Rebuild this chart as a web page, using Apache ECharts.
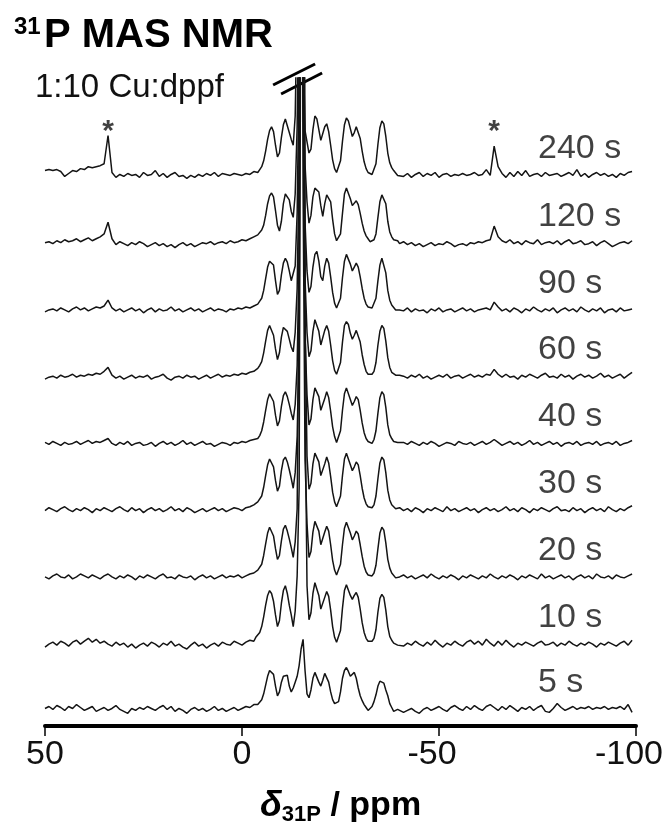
<!DOCTYPE html>
<html>
<head>
<meta charset="utf-8">
<script src="https://cdn.jsdelivr.net/npm/echarts@6/dist/echarts.min.js"></script>
<style>
html,body{margin:0;padding:0;background:#fff;}
#main{width:667px;height:831px;}
</style>
</head>
<body>
<div id="main"></div>
<script>
var FONT = '"Liberation Sans", Arial, sans-serif';

// stacked spectra, top to bottom
var labels = ['240 s', '120 s', '90 s', '60 s', '40 s', '30 s', '20 s', '10 s', '5 s'];
var offsets = [566, 496, 427, 359, 290, 222, 153, 84, 17];

// intensities: 50..-3 ppm (1 ppm), -3.5..-40 (0.5 ppm), -41..-99 (1 ppm)
var s240 = [
  4, 5, 4, 5, 3, -2, 1, 4, 3, 6,
  5, 8, 7, 8, 9, 11, 40, 2, -3, 0,
  -2, 1, -1, 0, -3, 2, -1, 0, 4, -2,
  1, -3, 0, 2, -2, -1, -4, -1, -3, 0,
  -2, 1, -1, 2, -2, 1, 0, -1, 1, 0,
  -1, 1, 0, 3,
  3, 2, 5, 8, 14, 24, 36, 45, 49, 44,
  30, 18, 22, 38, 51, 57, 50, 43, 36, 30,
  60, 180, 1400, 500, 140, 45, 45, 22, 26, 46,
  60, 57, 46, 35, 37, 49, 52, 44, 30, 15,
  6, 2, 4, 14, 34, 51, 58, 55, 47, 39,
  43, 49, 47, 37, 24, 13, 6, 2, 3, 0,
  2, 11, 31, 48, 55, 52, 39, 22, 12, 7,
  4, 2, -1, 1,
  -2, 1, -3, 0, 2, -2, 1, -1, 2, -3,
  0, 1, -2, 0, -1, 1, -1, 0, 2, -1,
  0, 5, -1, 29, 8, 1, -3, 2, -2, 3,
  -1, 4, -2, 0, 1, -2, 2, -1, 0, 1,
  -2, 0, 2, -1, 5, -2, 1, -3, 0, 2,
  -1, 1, -2, 0, -3, 1, -1, 2, 3
];
var s120 = [
  0, 1, -1, 2, 0, 3, 1, 2, 4, 1,
  3, 5, 2, 4, 6, 9, 21, 4, -2, 1,
  -1, -3, 0, -2, 1, -1, -4, -2, 0, -3,
  -1, -4, -2, -5, -2, 0, -3, -1, -4, -2,
  0, -1, 1, -2, 0, 1, -1, 2, 0, 1,
  3, 2, 4, 6,
  7, 8, 10, 13, 18, 28, 40, 48, 51, 47,
  33, 18, 12, 22, 40, 50, 51, 44, 32, 26,
  50, 120, 300, 1400, 200, 80, 42, 20, 28, 47,
  56, 58, 52, 38, 27, 40, 49, 51, 42, 24,
  9, 2, 1, 9, 30, 50, 56, 55, 45, 38,
  40, 43, 39, 30, 20, 12, 7, 4, 1, 0,
  3, 9, 26, 42, 49, 50, 40, 22, 11, 6,
  3, 1, 2, -1,
  1, -2, 0, -3, -1, -4, -2, 0, -3, -1,
  -2, 1, -1, -4, -2, -1, -3, 0, -1, 1,
  0, 2, 3, 17, 6, 2, 0, 3, -1, 1,
  -2, 2, 0, -1, 3, -2, 0, 1, -1, 2,
  -2, 1, 3, -1, 0, 2, -2, -1, 1, -3,
  0, 2, -1, -4, -2, 0, 1, -1, 2
];
var s90 = [
  -2, 0, 1, -1, 2, 0, -2, 1, 3, 0,
  2, -1, 1, 3, 2, 4, 10, 2, -1, 1,
  -2, 0, 2, -1, 1, -3, 0, 2, -2, 1,
  -1, 0, 3, -1, 1, -2, 0, 2, -1, 1,
  -2, 0, 2, -1, 1, 0, -2, 1, 0, 2,
  1, 3, 2, 4,
  5, 6, 9, 12, 20, 32, 44, 50, 52, 46,
  30, 16, 20, 36, 48, 53, 49, 40, 30, 28,
  45, 100, 250, 1400, 250, 90, 40, 18, 24, 44,
  57, 60, 50, 34, 30, 45, 53, 48, 34, 18,
  7, 2, 3, 12, 33, 50, 57, 56, 47, 40,
  44, 48, 44, 34, 22, 12, 6, 3, 1, 2,
  4, 12, 30, 46, 53, 51, 38, 20, 10, 5,
  3, 0, 2, 0,
  -1, 2, -2, 1, -1, 0, -3, 1, -1, 2,
  -2, 0, 1, -2, 0, 2, -1, 1, -2, 0,
  1, 2, 0, 8, 3, -1, 1, -2, 2, 0,
  -3, 1, -1, 3, 0, -2, 1, -1, 2, -3,
  0, 2, -1, 1, -2, 3, 0, -2, 1, -1,
  2, -3, 0, 1, -2, 2, -1, 0, 1
];
var s60 = [
  -3, -1, 0, -2, 1, -1, 0, 2, -1, 1,
  0, 2, 1, 3, 2, 5, 9, 1, -2, 0,
  -3, -1, 1, -2, 0, -1, 1, -3, -1, 0,
  2, -2, -4, -1, 0, -2, 1, -1, 0, -3,
  -1, 1, -2, 0, 2, -1, 1, 0, 2, 1,
  3, 2, 4, 5,
  7, 8, 11, 15, 24, 36, 47, 52, 50, 42,
  28, 17, 24, 40, 50, 52, 46, 38, 30, 25,
  45, 90, 220, 1400, 300, 100, 45, 20, 26, 46,
  58, 57, 46, 32, 33, 47, 52, 46, 32, 16,
  6, 2, 4, 14, 35, 52, 56, 53, 44, 38,
  42, 47, 45, 35, 22, 12, 5, 2, 0, 2,
  5, 14, 32, 46, 52, 49, 36, 19, 9, 4,
  2, 1, -1, 1,
  0, -2, 1, -1, 2, -2, 0, -3, -1, 1,
  -1, 2, -2, 0, 1, -2, 0, 2, -1, 1,
  -1, 2, 1, 7, 2, -1, 2, -1, 0, -3,
  1, -1, 2, 0, -2, 1, 3, -1, 0, -2,
  2, -1, 1, -3, 0, 2, -1, 1, -2, 0,
  3, -1, 1, -2, 0, 2, -2, 1, 4
];
var s40 = [
  1, -1, 2, 0, -2, 1, -1, 0, 2, -1,
  1, 3, 0, 2, 1, 3, 5, 0, -2, 1,
  -1, 2, -2, 0, 1, -2, -1, 1, -3, 0,
  2, -1, 1, -2, 0, 3, -1, 1, -2, 0,
  2, -1, 0, -3, -1, 1, 0, -2, 1, 0,
  2, 1, 3, 4,
  6, 5, 8, 13, 22, 34, 45, 51, 50, 43,
  29, 18, 23, 38, 49, 53, 48, 40, 31, 24,
  40, 80, 200, 1400, 350, 110, 50, 19, 25, 45,
  57, 58, 48, 34, 32, 46, 53, 47, 33, 17,
  7, 1, 3, 13, 34, 51, 57, 55, 45, 39,
  43, 48, 45, 34, 21, 11, 5, 2, 1, 0,
  4, 13, 31, 47, 53, 50, 37, 19, 9, 5,
  2, 0, 1, -1,
  1, -1, 2, 0, -2, 1, -1, 2, 0, -3,
  -1, 1, 0, -2, 2, 0, -1, 1, -2, 0,
  2, -1, 1, 4, 1, -2, 0, 2, -1, 1,
  -2, 0, 3, -1, 1, -2, 0, 2, -1, 1,
  -3, 0, 1, -1, 2, -2, 0, 1, -1, 2,
  -2, 0, 1, -1, 2, -2, 0, 1, 3
];
var s30 = [
  -1, 2, 0, -2, 1, 3, 0, -2, 1, -1,
  2, 0, -3, 1, -1, 2, 0, -2, 1, 3,
  0, -2, 2, -1, 1, -3, 0, 2, -1, 1,
  -2, 0, 3, -1, 1, -2, 2, 0, -3, -1,
  1, -2, 0, 2, -1, 1, -2, 0, 2, 1,
  -1, 2, 3, 5,
  6, 8, 10, 14, 23, 35, 46, 52, 51, 44,
  30, 19, 24, 40, 51, 54, 49, 41, 32, 22,
  38, 75, 180, 900, 1400, 200, 55, 21, 27, 47,
  58, 59, 49, 35, 33, 47, 54, 48, 34, 18,
  8, 3, 4, 14, 35, 52, 58, 56, 46, 40,
  44, 49, 46, 35, 22, 12, 6, 3, 1, 2,
  5, 14, 32, 48, 54, 51, 38, 20, 10, 5,
  3, 1, 0, 2,
  -1, 1, -2, 2, 0, -3, 1, -1, 2, 0,
  -2, 3, -1, 1, -2, 0, 2, -1, 1, -3,
  0, 2, -1, 1, -2, 0, 3, -1, 1, -2,
  2, 0, -3, 1, -1, 2, 0, -2, 1, 3,
  -1, 0, -2, 2, -1, 1, -3, 0, 2, -1,
  1, -2, 3, 0, -2, 1, -1, 2, 4
];
var s20 = [
  0, -2, 1, 3, 0, -1, 2, -2, 0, 3,
  1, -1, 2, 0, -2, 1, 3, 0, -2, 1,
  -1, 2, 0, -3, 1, -1, 2, 0, -2, 1,
  3, -1, 0, -2, 2, 0, -1, 1, -3, 0,
  2, -1, 1, -2, 0, 2, -1, 1, 0, 2,
  -1, 1, 3, 4,
  5, 7, 9, 13, 22, 34, 45, 51, 49, 42,
  29, 18, 22, 37, 49, 53, 47, 39, 30, 20,
  36, 70, 300, 1400, 400, 120, 55, 20, 26, 46,
  57, 58, 47, 33, 32, 46, 52, 47, 33, 17,
  7, 2, 3, 13, 33, 50, 56, 54, 45, 38,
  42, 47, 44, 33, 21, 11, 5, 2, 0, 1,
  4, 12, 29, 45, 51, 48, 35, 18, 9, 4,
  2, -1, 1, 0,
  2, -1, 1, -2, 0, 2, -1, 3, 0, -2,
  1, -1, 2, 0, -3, 1, -1, 2, 0, -2,
  1, -1, 3, 0, -2, 1, -1, 2, 0, -3,
  1, -1, 2, 0, -2, 3, -1, 1, -2, 0,
  2, -1, 1, -3, 0, 2, -1, 1, -2, 3,
  0, -1, 1, -2, 2, 0, -1, 1, 3
];
var s10 = [
  -3, 0, 2, -1, 3, 1, -2, 2, 4, 0,
  3, 6, 2, 5, 1, 3, 0, -2, 2, -1,
  1, -3, 0, -4, -1, 1, -2, 2, 0, -3,
  1, -1, 3, -2, 0, -3, -5, -1, 2, -2,
  0, -4, -1, 1, -2, 2, 0, -1, 3, 1,
  -1, 2, 4, 3,
  7, 9, 12, 18, 28, 40, 50, 55, 52, 44,
  30, 18, 24, 42, 55, 60, 52, 40, 30, 18,
  34, 70, 160, 800, 1400, 250, 60, 25, 32, 52,
  63, 62, 50, 36, 34, 48, 54, 49, 35, 18,
  7, 2, 4, 14, 37, 55, 61, 60, 50, 46,
  50, 53, 48, 36, 22, 12, 6, 3, 1, 3,
  6, 15, 33, 47, 51, 48, 35, 18, 8, 4,
  1, 2, -1, 1,
  -2, 1, -1, 3, 0, -2, 2, -1, 4, 0,
  -3, 1, -1, 3, 0, -2, 2, 4, 0, 3,
  -1, 5, 1, -2, 3, -1, 4, 0, -3, 1,
  -1, 2, 0, -2, 1, 3, -1, 0, 2, -2,
  1, -1, 3, 0, -2, 1, -1, 2, 0, -3,
  1, -1, 2, 0, -2, 1, 3, -1, 4
];
var s5 = [
  1, 3, 0, 4, 2, -1, 3, 1, 5, 2,
  -1, 1, 3, -2, 0, 2, -1, 1, 4, 0,
  -2, -4, 1, -1, 2, 0, 3, 1, -1, 2,
  4, 0, 3, -2, 1, -1, -4, 0, 2, -1,
  1, -2, 0, 3, -1, 1, -2, 0, 2, -1,
  1, 3, 2, 5,
  3, 5, 7, 10, 16, 25, 34, 40, 42, 36,
  24, 14, 18, 28, 34, 36, 35, 24, 18, 22,
  28, 34, 45, 62, 72, 40, 16, 12, 20, 32,
  38, 36, 28, 24, 30, 37, 35, 28, 18, 10,
  6, 4, 8, 18, 32, 40, 43, 39, 34, 36,
  38, 32, 22, 14, 9, 5, 2, -1, 0, 3,
  8, 15, 24, 29, 30, 27, 20, 14, 6, 2,
  -2, -3, 0, -2,
  -3, -1, 1, -2, -4, 0, 2, -1, 1, 3,
  0, -2, 2, 4, 1, -1, 3, 0, 4, 1,
  -1, 3, 5, 2, -1, 3, 0, 4, 1, -2,
  2, 0, 3, -1, 2, 4, -2, -3, 1, 6,
  2, -1, 1, 3, 0, 2, 1, 3, 0, 2,
  1, 3, 0, 2, 1, 3, 0, 5, -3
];
var traces = [s240, s120, s90, s60, s40, s30, s20, s10, s5];

// spinning sidebands marked with *
var sidebandPpm = [34, -64];

// chemical shift sampling of the arrays above
var ppm = [];
for (var a = 50; a >= -3; a--) ppm.push(a);
for (var b = -3.5; b >= -40; b -= 0.5) ppm.push(b);
for (var c = -41; c >= -99; c--) ppm.push(c);

var labelPpm = -75, labelRise = 27, starRise = 51, yTop = 665;

var series = [];
traces.forEach(function (vals, i) {
    var data = [];
    for (var k = 0; k < vals.length && k < ppm.length; k++) {
        data.push([ppm[k], offsets[i] + vals[k]]);
    }
    series.push({
        type: 'line',
        name: labels[i],
        data: data,
        showSymbol: false,
        clip: true,
        animation: false,
        silent: true,
        lineStyle: {color: '#141414', width: 1.5}
    });
});

series.push({
    type: 'scatter',
    symbolSize: 1,
    itemStyle: {color: 'rgba(0,0,0,0)'},
    silent: true,
    animation: false,
    data: offsets.map(function (o) { return [labelPpm, o + labelRise]; }),
    label: {
        show: true, position: 'right', distance: 0,
        formatter: function (p) { return labels[p.dataIndex]; },
        fontFamily: FONT, fontSize: 34, color: '#111'
    }
});

series.push({
    type: 'scatter',
    symbolSize: 1,
    itemStyle: {color: 'rgba(0,0,0,0)'},
    silent: true,
    animation: false,
    data: sidebandPpm.map(function (p) { return [p, offsets[0] + starRise]; }),
    label: {
        show: true, position: 'inside', formatter: '*',
        fontFamily: FONT, fontSize: 30, fontWeight: 'bold', color: '#111', offset: [0, 7]
    }
});

var chart = echarts.init(document.getElementById('main'));
chart.setOption({
    backgroundColor: '#fff',
    animation: false,
    grid: {left: 45, right: 31, top: 78, bottom: 88},
    xAxis: {
        type: 'value',
        inverse: true,
        min: -100, max: 50, interval: 50,
        axisLine: {show: true, onZero: false, lineStyle: {color: '#000', width: 4}},
        axisTick: {show: true, length: 10, lineStyle: {color: '#000', width: 1.5}},
        splitLine: {show: false},
        axisLabel: {
            margin: 12,
            formatter: function (v) { return v < 0 ? '{n|' + v + '}' : '{p|' + v + '}'; },
            rich: {
                n: {fontFamily: FONT, fontSize: 34, color: '#111', padding: [0, 14, 0, 0]},
                p: {fontFamily: FONT, fontSize: 34, color: '#111'}
            }
        },
        name: '{d|δ}{s|31P}{u| / ppm}',
        nameLocation: 'middle',
        nameGap: 60,
        nameTextStyle: {
            rich: {
                d: {fontFamily: FONT, fontSize: 36, fontStyle: 'italic', fontWeight: 'bold', color: '#000', lineHeight: 40},
                s: {fontFamily: FONT, fontSize: 22, fontWeight: 'bold', color: '#000', verticalAlign: 'bottom', lineHeight: 22},
                u: {fontFamily: FONT, fontSize: 34, fontWeight: 'bold', color: '#000', lineHeight: 40}
            }
        }
    },
    yAxis: {type: 'value', min: 0, max: yTop, show: false},
    series: series
});

// title and sample text, plus the axis break marks on the clipped main peak
var brk = chart.convertToPixel({gridIndex: 0}, [-15, yTop]);
chart.setOption({
    graphic: [
        {type: 'text', x: 14, y: 27, style: {text: '31', font: 'bold 24px ' + FONT, fill: '#000', verticalAlign: 'middle'}},
        {type: 'text', x: 44, y: 36, style: {text: 'P MAS NMR', font: 'bold 40px ' + FONT, fill: '#000', verticalAlign: 'middle'}},
        {type: 'text', x: 35, y: 88, style: {text: '1:10 Cu:dppf', font: '33px ' + FONT, fill: '#111', verticalAlign: 'middle'}},
        {type: 'line', shape: {x1: brk[0] - 28, y1: brk[1] + 7, x2: brk[0] + 14, y2: brk[1] - 14}, style: {stroke: '#000', lineWidth: 3}},
        {type: 'line', shape: {x1: brk[0] - 20, y1: brk[1] + 16, x2: brk[0] + 21, y2: brk[1] - 5}, style: {stroke: '#000', lineWidth: 3}}
    ]
});
</script>
</body>
</html>
